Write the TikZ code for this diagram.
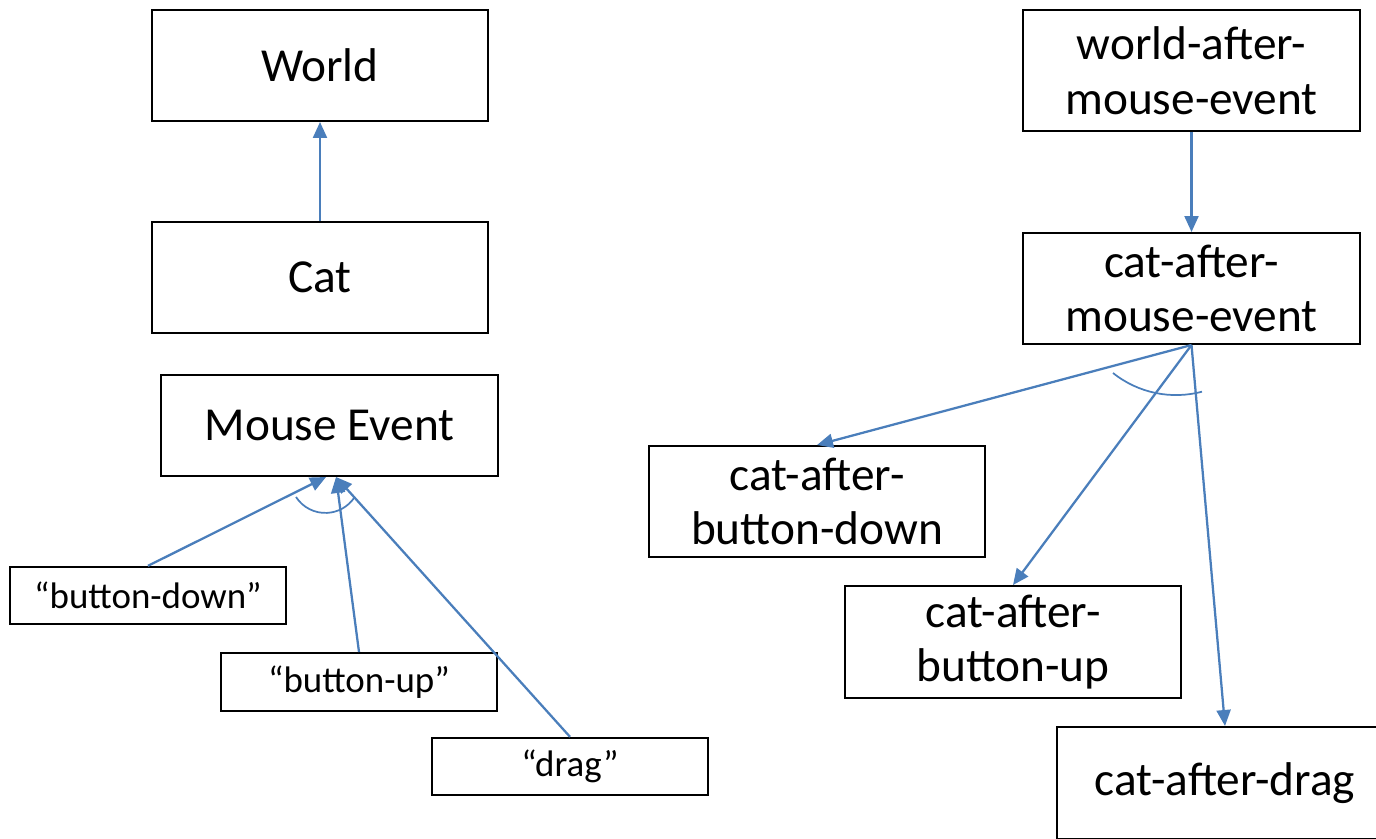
\documentclass[tikz,border=0pt]{standalone}
\usepackage{fontspec}
\setmainfont{Carlito}
\usetikzlibrary{arrows.meta}
\definecolor{arrowblue}{RGB}{74,126,187}
\begin{document}
\begin{tikzpicture}[x=0.75pt,y=-0.75pt,
  bigbox/.style={draw=black, line width=1.5pt, inner sep=0pt, align=center,
    font=\fontsize{35.5}{41}\selectfont, minimum width=252pt, minimum height=83.25pt},
  smallbox/.style={draw=black, line width=1.5pt, inner sep=0pt, align=center,
    font=\fontsize{27.7}{33}\selectfont, minimum width=207pt, minimum height=43pt},
  conn/.style={draw=arrowblue, line width=1.7pt, -{Triangle[length=12pt,width=10.5pt]}},
  arcline/.style={draw=arrowblue, line width=1.3pt}]
\useasboundingbox (0,0) rectangle (1376,838);
\clip (0,0) rectangle (1376,838);

% left side
\node[bigbox] (world) at (320,65.5) {World};
\node[bigbox] (cat) at (320,277.5) {Cat};
\node[bigbox, minimum width=252.75pt, minimum height=75.75pt] (me) at (329.5,425.5) {Mouse Event};
\node[smallbox] (bd) at (148,595.5) {“button-down”};
\node[smallbox, minimum height=43.5pt] (bu) at (359,682) {“button-up”};
\node[smallbox] (dr) at (570,766.5) {“drag”};

\draw[conn] (cat.north) -- (world.south);
\draw[conn] (bd.north) -- ([xshift=-2.6pt]me.south);
\draw[conn] (bu.north) -- ([xshift=4.9pt]me.south);
\draw[conn] (dr.north) -- ([xshift=4.9pt]me.south);
\draw[arcline] (296,497) arc[start angle=147, end angle=35, radius=35];

% right side
\node[bigbox, minimum width=252.75pt, minimum height=90.75pt] (wam) at (1191.5,70.5) {world-after-\\mouse-event};
\node[bigbox, minimum width=252.75pt] (cam) at (1191.5,288.5) {cat-after-\\mouse-event};
\node[bigbox] (cbd) at (817,501.5) {cat-after-\\button-down};
\node[bigbox, minimum height=84pt] (cbu) at (1013,642) {cat-after-\\button-up};
\node[bigbox, minimum height=84pt] (cdr) at (1225,783) {cat-after-drag};

\draw[conn] (wam.south) -- (cam.north);
\draw[conn] (cam.south) -- (cbd.north);
\draw[conn] (cam.south) -- (cbu.north);
\draw[conn] (cam.south) -- (cdr.north);
\draw[arcline] (1113,373) arc[start angle=128.6, end angle=75.1, radius=101];
\end{tikzpicture}
\end{document}
